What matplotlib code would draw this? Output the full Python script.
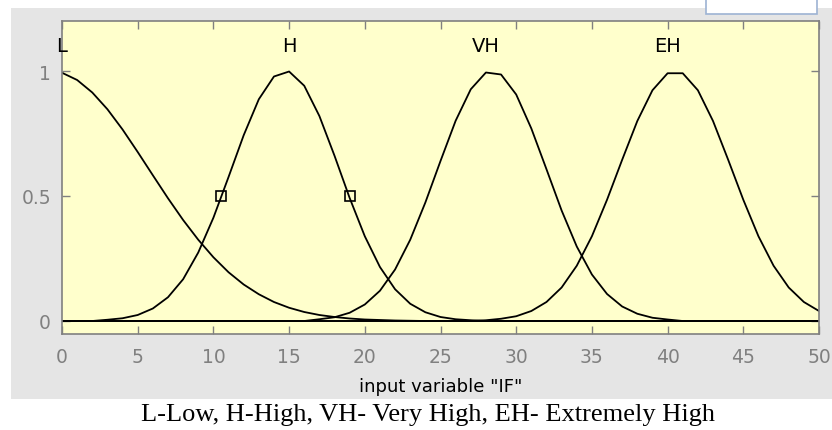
import matplotlib
matplotlib.use("Agg")
import matplotlib.pyplot as plt
from matplotlib.patches import Rectangle
import numpy as np

x_grid = list(range(0, 51))
mu_L = [0.993, 0.964, 0.914, 0.847, 0.766, 0.676, 0.583, 0.491, 0.404, 0.325,
        0.255, 0.195, 0.146, 0.107, 0.076, 0.053, 0.036, 0.024, 0.016, 0.010,
        0.006, 0.004, 0.002, 0.001, 0, 0, 0, 0, 0, 0,
        0, 0, 0, 0, 0, 0, 0, 0, 0, 0,
        0, 0, 0, 0, 0, 0, 0, 0, 0, 0, 0]
mu_H = [0, 0, 0, 0.005, 0.011, 0.024, 0.050, 0.095, 0.167, 0.274,
        0.413, 0.576, 0.743, 0.887, 0.978, 0.998, 0.941, 0.820, 0.661, 0.492,
        0.339, 0.216, 0.127, 0.069, 0.035, 0.016, 0.007, 0.003, 0, 0,
        0, 0, 0, 0, 0, 0, 0, 0, 0, 0,
        0, 0, 0, 0, 0, 0, 0, 0, 0, 0, 0]
mu_VH = [0, 0, 0, 0, 0, 0, 0, 0, 0, 0,
         0, 0, 0, 0, 0, 0, 0, 0.007, 0.015, 0.033,
         0.066, 0.121, 0.206, 0.325, 0.474, 0.640, 0.801, 0.927, 0.994, 0.986,
         0.906, 0.770, 0.607, 0.442, 0.298, 0.186, 0.108, 0.058, 0.029, 0.013,
         0.006, 0, 0, 0, 0, 0, 0, 0, 0, 0, 0]
mu_EH = [0, 0, 0, 0, 0, 0, 0, 0, 0, 0,
         0, 0, 0, 0, 0, 0, 0, 0, 0, 0,
         0, 0, 0, 0, 0, 0, 0, 0, 0.003, 0.009,
         0.019, 0.040, 0.076, 0.134, 0.221, 0.339, 0.485, 0.645, 0.800, 0.923,
         0.991, 0.991, 0.923, 0.800, 0.645, 0.485, 0.339, 0.221, 0.134, 0.076, 0.040]
mf_names = ["L", "H", "VH", "EH"]

# half-height points marked on H
mark_x = [10.5, 19.0]
mark_y = [0.5, 0.5]

x_ticks = [0, 5, 10, 15, 20, 25, 30, 35, 40, 45, 50]
y_ticks = [0, 0.5, 1]
y_ticklabels = ["0", "0.5", "1"]
x_label = 'input variable "IF"'
caption = "L-Low, H-High, VH- Very High, EH- Extremely High"

W, H = 832, 431
fig = plt.figure(figsize=(W / 100, H / 100), dpi=100, facecolor="white")

# grey window background and the edit box at the top right
fig.add_artist(Rectangle((11 / W, (H - 400) / H), 1 - 11 / W, 391 / H,
                         transform=fig.transFigure, facecolor="#e5e5e5",
                         edgecolor="none", zorder=0))
fig.add_artist(Rectangle((706 / W, (H - 15) / H), 111 / W, 0.1,
                         transform=fig.transFigure, facecolor="white",
                         edgecolor="#9db3d3", linewidth=1.2, zorder=1))

ax = fig.add_axes([62 / W, (H - 334.5) / H, 757 / W, 312.5 / H])
ax.set_facecolor("#ffffcc")

ax.plot([0, 50], [0, 0], color="black", lw=1.2)
for name, mu in zip(mf_names, [mu_L, mu_H, mu_VH, mu_EH]):
    ax.plot(x_grid, mu, color="black", lw=1.3)
    i = int(np.argmax(mu))
    ax.text(x_grid[i], 1.1, name, ha="center", va="center", fontsize=14,
            color="black")
ax.plot(mark_x, mark_y, ls="none", marker="s", ms=7, mfc="none",
        mec="black", mew=1.2)

ax.set_xlim(0, 50)
ax.set_ylim(-0.05, 1.2)
ax.set_xticks(x_ticks)
ax.set_yticks(y_ticks)
ax.set_yticklabels(y_ticklabels)
ax.tick_params(direction="in", length=6, width=1, color="#808080",
               labelcolor="#808080", labelsize=13.5, top=True, right=True)
ax.tick_params(axis="x", pad=10)
ax.tick_params(axis="y", pad=8)
for s in ax.spines.values():
    s.set_color("#808080")
    s.set_linewidth(1.2)
ax.set_xlabel(x_label, fontsize=13, color="black", labelpad=8)

fig.text(428 / W, (H - 415) / H, caption, ha="center", va="center",
         family="Liberation Serif", fontsize=19, color="black")

fig.savefig("out.png", dpi=100)
